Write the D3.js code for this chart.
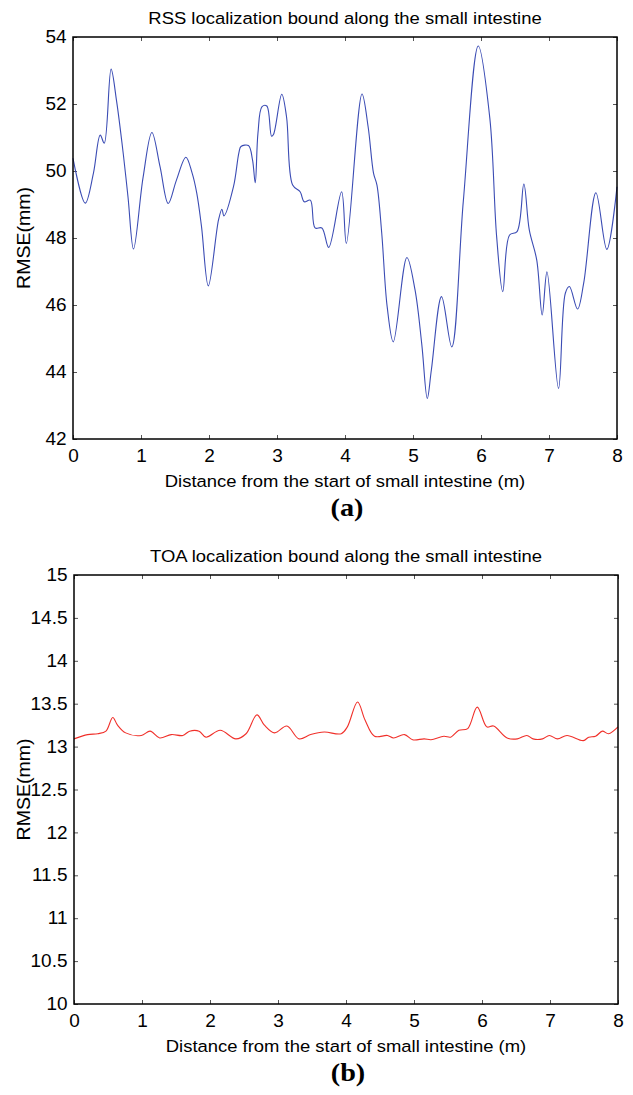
<!DOCTYPE html>
<html>
<head>
<meta charset="utf-8">
<script src="https://cdn.jsdelivr.net/npm/d3@7"></script>
<style>
  body { margin: 0; background: #fff; }
  svg text { font-family: "Liberation Sans", Arial, sans-serif; fill: #000; }
</style>
</head>
<body>
<div id="chart"></div>
<script>
// distancias (m) y RMSE (mm)
let rssX = [0.00, 0.18, 0.30, 0.40, 0.46, 0.56, 0.64, 0.74, 0.81, 0.89, 1.03, 1.16, 1.28, 1.40, 1.52,
    1.66, 1.75, 1.82, 1.89, 1.99, 2.14, 2.19, 2.22, 2.36, 2.44, 2.47, 2.58, 2.64, 2.68, 2.72,
    2.78, 2.85, 2.92, 2.95, 3.07, 3.14, 3.23, 3.34, 3.40, 3.49, 3.56, 3.66, 3.76, 3.95, 4.02,
    4.25, 4.34, 4.42, 4.47, 4.54, 4.62, 4.71, 4.91, 5.03, 5.13, 5.21, 5.27, 5.42, 5.57, 5.74,
    5.96, 6.13, 6.23, 6.32, 6.42, 6.53, 6.63, 6.71, 6.82, 6.90, 6.97, 7.14, 7.24, 7.30, 7.42,
    7.51, 7.69, 7.85, 8.00];
let rssY = [50.38, 49.04, 49.93, 51.07, 50.83, 53.04, 52.10, 50.50, 49.20, 47.67, 49.80, 51.15, 50.13, 49.03, 49.72,
    50.41, 49.95, 49.34, 48.34, 46.57, 48.54, 48.86, 48.66, 49.53, 50.55, 50.73, 50.76, 50.33, 49.65, 51.13,
    51.92, 51.94, 51.04, 51.10, 52.29, 51.62, 49.58, 49.38, 49.08, 49.13, 48.30, 48.30, 47.72, 49.38, 47.84,
    52.30, 51.32, 49.93, 49.58, 48.15, 45.95, 44.90, 47.42, 46.45, 44.81, 43.21, 44.06, 46.25, 44.75, 49.10,
    53.73, 51.57, 48.04, 46.40, 48.09, 48.19, 49.61, 48.24, 47.34, 45.70, 46.99, 43.51, 46.35, 46.55, 45.88,
    46.65, 49.35, 47.66, 49.53];

let toaX = [0.00, 0.20, 0.35, 0.47, 0.57, 0.64, 0.76, 0.99, 1.12, 1.26, 1.43, 1.60, 1.70, 1.84, 1.94,
    2.15, 2.38, 2.53, 2.69, 2.80, 2.95, 3.13, 3.31, 3.48, 3.68, 3.93, 4.02, 4.17, 4.28, 4.42,
    4.61, 4.70, 4.86, 4.98, 5.15, 5.25, 5.44, 5.54, 5.66, 5.79, 5.93, 6.07, 6.17, 6.37, 6.52,
    6.66, 6.75, 6.89, 6.99, 7.11, 7.25, 7.49, 7.57, 7.67, 7.77, 7.86, 8.00];
let toaY = [13.09, 13.14, 13.15, 13.18, 13.34, 13.25, 13.16, 13.13, 13.18, 13.10, 13.14, 13.13, 13.18, 13.18, 13.11,
    13.19, 13.09, 13.15, 13.37, 13.25, 13.16, 13.24, 13.09, 13.14, 13.17, 13.15, 13.23, 13.52, 13.31, 13.12,
    13.13, 13.10, 13.14, 13.08, 13.09, 13.08, 13.12, 13.11, 13.19, 13.21, 13.46, 13.23, 13.24, 13.10, 13.09,
    13.13, 13.09, 13.09, 13.13, 13.09, 13.13, 13.07, 13.11, 13.12, 13.18, 13.15, 13.23];

let xTicks = [0, 1, 2, 3, 4, 5, 6, 7, 8];
let rssTicks = [42, 44, 46, 48, 50, 52, 54];
let toaTicks = [10, 10.5, 11, 11.5, 12, 12.5, 13, 13.5, 14, 14.5, 15];

let titles = ['RSS localization bound along the small intestine', 'TOA localization bound along the small intestine'];
let xLabel = 'Distance from the start of small intestine (m)';
let yLabel = 'RMSE(mm)';
let panelTags = ['(a)', '(b)'];

let stretch = 1.085; // el texto del original esta algo ensanchado

let svg = d3.select('#chart').append('svg')
    .attr('width', 633)
    .attr('height', 1095);

// texto centrado en (x, y) y ensanchado en horizontal
function label(g, x, y, txt, size, rot) {
    return g.append('text')
        .attr('transform', 'translate(' + x + ',' + y + ')' + (rot ? ' rotate(' + rot + ')' : '') + ' scale(' + stretch + ',1)')
        .attr('text-anchor', 'middle')
        .attr('font-size', size)
        .text(txt);
}

function panel(opts) {
    let x = d3.scaleLinear().domain([0, 8]).range([opts.left, opts.right]);
    let y = d3.scaleLinear().domain(opts.yDomain).range([opts.bottom, opts.top]);
    let g = svg.append('g');

    // ejes con ticks hacia dentro, al estilo matlab
    let tickStyle = function (sel) {
        sel.select('.domain').remove();
        sel.selectAll('.tick line').attr('stroke', '#555').attr('stroke-width', 1);
        sel.selectAll('text')
            .attr('font-size', 17.5)
            .attr('transform', 'scale(' + stretch + ',1)')
            .style('font-family', '"Liberation Sans", Arial, sans-serif');
    };

    g.append('g')
        .attr('transform', 'translate(0,' + opts.bottom + ')')
        .call(d3.axisBottom(x).tickValues(xTicks).tickSize(-4).tickSizeOuter(0).tickPadding(11).tickFormat(d3.format('d')))
        .call(tickStyle);

    g.append('g')
        .attr('transform', 'translate(0,' + opts.top + ')')
        .call(d3.axisTop(x).tickValues(xTicks).tickSize(-4).tickSizeOuter(0).tickFormat(''))
        .call(tickStyle);

    g.append('g')
        .attr('transform', 'translate(' + opts.left + ',0)')
        .call(d3.axisLeft(y).tickValues(opts.yTicks).tickSize(-4).tickSizeOuter(0).tickPadding(6).tickFormat((d) => String(d)))
        .call(tickStyle);

    g.append('g')
        .attr('transform', 'translate(' + opts.right + ',0)')
        .call(d3.axisRight(y).tickValues(opts.yTicks).tickSize(-4).tickSizeOuter(0).tickFormat(''))
        .call(tickStyle);

    let pts = opts.xs.map((d, i) => [d, opts.ys[i]]);
    let line = d3.line()
        .x((d) => x(d[0]))
        .y((d) => y(d[1]))
        .curve(d3.curveCatmullRom.alpha(0.5));

    g.append('path')
        .datum(pts)
        .attr('fill', 'none')
        .attr('stroke', opts.color)
        .attr('stroke-width', 1.1)
        .attr('d', line);

    // marco
    g.append('rect')
        .attr('x', opts.left)
        .attr('y', opts.top)
        .attr('width', opts.right - opts.left)
        .attr('height', opts.bottom - opts.top)
        .attr('fill', 'none')
        .attr('stroke', '#000')
        .attr('stroke-width', 1.5);

    let cx = (opts.left + opts.right) / 2;

    label(g, cx, opts.top - 13, opts.title, 17);
    label(g, cx, opts.bottom + 48, xLabel, 17);
    label(g, 30, (opts.top + opts.bottom) / 2, yLabel, 18, -90);
    label(g, cx + 2, opts.bottom + 77, opts.tag, 26)
        .attr('font-weight', 'bold')
        .style('font-family', '"Liberation Serif", "Times New Roman", serif');
}

panel({
    left: 73, right: 617, top: 37, bottom: 439,
    yDomain: [42, 54], yTicks: rssTicks,
    xs: rssX, ys: rssY, color: '#3b4cb4',
    title: titles[0], tag: panelTags[0]
});

panel({
    left: 74, right: 618, top: 575, bottom: 1004,
    yDomain: [10, 15], yTicks: toaTicks,
    xs: toaX, ys: toaY, color: '#f0302a',
    title: titles[1], tag: panelTags[1]
});
</script>
</body>
</html>
